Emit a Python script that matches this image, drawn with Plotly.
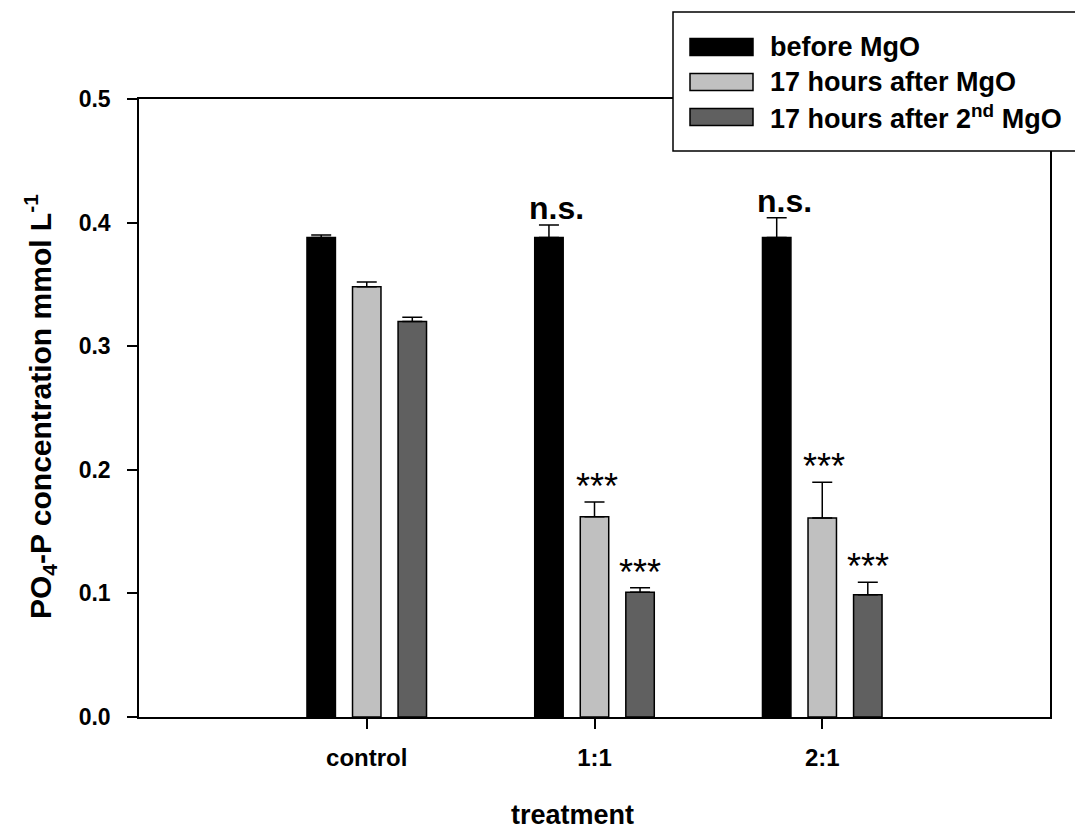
import plotly.graph_objects as go

# Treatment groups and PO4-P concentrations (mmol/L), mean and upper error
treatments = ["control", "1:1", "2:1"]
before_mgo = [0.388, 0.388, 0.388]
before_err = [0.002, 0.010, 0.016]
after_mgo = [0.348, 0.162, 0.161]
after_err = [0.004, 0.012, 0.029]
after_2nd_mgo = [0.320, 0.101, 0.099]
after_2nd_err = [0.0035, 0.0035, 0.010]

# Significance labels per group and series
sig_before = ["", "n.s.", "n.s."]
sig_after = ["", "***", "***"]
sig_after_2nd = ["", "***", "***"]

series_names = ["before MgO", "17 hours after MgO", "17 hours after 2<sup>nd</sup> MgO"]
series_colors = ["#000000", "#c0c0c0", "#606060"]

FONT = "Arial, Liberation Sans, sans-serif"
x_pos = list(range(len(treatments)))
offsets = [-0.2, 0.0, 0.2]
bar_w = 0.125

fig = go.Figure()
series = [
    (before_mgo, before_err),
    (after_mgo, after_err),
    (after_2nd_mgo, after_2nd_err),
]
for (vals, errs), name, color, off in zip(series, series_names, series_colors, offsets):
    fig.add_trace(go.Bar(
        x=[p + off for p in x_pos],
        y=vals,
        width=bar_w,
        name=name,
        marker=dict(color=color, line=dict(color="black", width=1.5)),
        error_y=dict(type="data", symmetric=False, array=errs,
                     arrayminus=[0] * len(errs), color="black",
                     thickness=1.5, width=10),
        showlegend=False,
    ))

# Significance markers above the error bars
annotations = []
for labels, (vals, errs), off, size, yshift, xshift, bold in [
    (sig_before, series[0], offsets[0], 32, -3, 8, True),
    (sig_after, series[1], offsets[1], 36, -7, 2, False),
    (sig_after_2nd, series[2], offsets[2], 36, -7, 0, False),
]:
    for p, lab, v, e in zip(x_pos, labels, vals, errs):
        if lab:
            annotations.append(dict(
                x=p + off, y=v + e, xref="x", yref="y",
                text=f"<b>{lab}</b>" if bold else lab,
                showarrow=False, yanchor="bottom", xanchor="center",
                yshift=yshift, xshift=xshift,
                font=dict(family=FONT, size=size, color="black"),
            ))

# Plot area in pixels and helpers to place items in paper coordinates
L, T, W, H = 139, 99, 911, 618
def px(x):
    return (x - L) / W
def py(y):
    return (T + H - y) / H

# Axis titles
annotations.append(dict(x=px(572), y=py(815), xref="paper", yref="paper",
                        text="<b>treatment</b>", showarrow=False,
                        xanchor="center", yanchor="middle",
                        font=dict(family=FONT, size=27, color="black")))
annotations.append(dict(x=px(40), y=py(407), xref="paper", yref="paper",
                        text="<b>PO<sub>4</sub>-P concentration mmol L<sup>-1</sup></b>",
                        showarrow=False, textangle=-90,
                        xanchor="center", yanchor="middle",
                        font=dict(family=FONT, size=30, color="black")))

# Legend drawn as a box with swatches and labels
shapes = [dict(type="rect", xref="paper", yref="paper",
               x0=px(673), x1=px(1085), y0=py(151), y1=py(12),
               fillcolor="white", line=dict(color="black", width=1.5), layer="above")]
row_y = [47, 82, 117]
for name, color, ry in zip(series_names, series_colors, row_y):
    shapes.append(dict(type="rect", xref="paper", yref="paper",
                       x0=px(690), x1=px(753), y0=py(ry + 8.5), y1=py(ry - 8.5),
                       fillcolor=color, line=dict(color="black", width=1.5), layer="above"))
    annotations.append(dict(x=px(768), y=py(ry), xref="paper", yref="paper",
                            text=f"<b>{name}</b>", showarrow=False,
                            xanchor="left", yanchor="middle",
                            font=dict(family=FONT, size=27, color="black")))

fig.update_layout(
    width=1075, height=832,
    margin=dict(l=L, r=1075 - L - W, t=T, b=832 - T - H, autoexpand=False),
    paper_bgcolor="white", plot_bgcolor="white",
    shapes=shapes, annotations=annotations,
    font=dict(family=FONT, color="black"),
    xaxis=dict(
        range=[-1, 3], tickvals=x_pos,
        ticktext=[f"<b>{t}</b>" for t in treatments],
        ticks="outside", ticklen=10, tickwidth=1.5, tickcolor="black",
        ticklabelstandoff=8, automargin=False,
        showline=True, linecolor="black", linewidth=1.5, mirror=True,
        showgrid=False, zeroline=False,
        tickfont=dict(family=FONT, size=24, color="black"),
    ),
    yaxis=dict(
        range=[0, 0.5], tickvals=[0, 0.1, 0.2, 0.3, 0.4, 0.5],
        ticktext=["<b>0.0</b>", "<b>0.1</b>", "<b>0.2</b>", "<b>0.3</b>", "<b>0.4</b>", "<b>0.5</b>"],
        ticks="outside", ticklen=10, tickwidth=1.5, tickcolor="black",
        ticklabelstandoff=12, automargin=False,
        showline=True, linecolor="black", linewidth=1.5, mirror=True,
        showgrid=False, zeroline=False,
        tickfont=dict(family=FONT, size=23, color="black"),
    ),
)

fig.write_html("out.html")
